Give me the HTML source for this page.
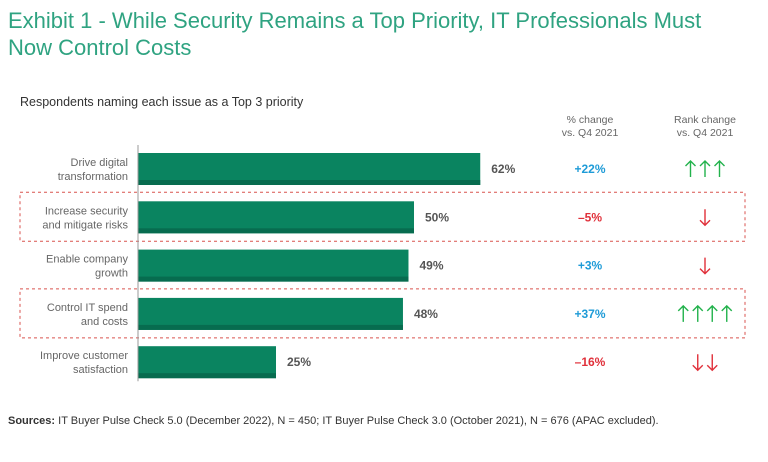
<!DOCTYPE html>
<html><head><meta charset="utf-8"><style>
body{margin:0;width:768px;height:462px;background:#fff;font-family:"Liberation Sans",sans-serif;overflow:hidden;position:relative}
.t{position:absolute;white-space:nowrap;font-family:"Liberation Sans",sans-serif}
</style></head><body>
<div class="t" style="left:8px;top:7px;font-size:22px;line-height:27px;color:#2fa381">Exhibit 1 - While Security Remains a Top Priority, IT Professionals Must<br>Now Control Costs</div>
<div class="t" style="left:20px;top:95px;font-size:12.5px;color:#333">Respondents naming each issue as a Top 3 priority</div>
<div class="t" style="left:540px;top:114px;width:100px;text-align:center;font-size:10.5px;line-height:13px;color:#666">% change<br>vs. Q4 2021</div>
<div class="t" style="left:655px;top:114px;width:100px;text-align:center;font-size:10.5px;line-height:13px;color:#666">Rank change<br>vs. Q4 2021</div>
<svg id="c" width="768" height="462" style="position:absolute;left:0;top:0"></svg>
<div class="t" style="left:8px;top:415px;font-size:11px;color:#333"><b>Sources:</b> IT Buyer Pulse Check 5.0 (December 2022), N = 450; IT Buyer Pulse Check 3.0 (October 2021), N = 676 (APAC excluded).</div>
<script>
const categories=[["Drive digital","transformation"],["Increase security","and mitigate risks"],["Enable company","growth"],["Control IT spend","and costs"],["Improve customer","satisfaction"]];
const values=[62,50,49,48,25];
const pctChange=["+22%","\u20135%","+3%","+37%","\u201316%"];
const rankChange=[3,-1,-1,4,-2];
const highlighted=[false,true,false,true,false];
const NS="http://www.w3.org/2000/svg",svg=document.getElementById('c');
const x0=138,k=5.52,y0=153,step=48.3,bh=32;
const xs=v=>x0+v*k, ys=i=>y0+i*step;
function mk(t,a){const e=document.createElementNS(NS,t);for(const n in a)e.setAttribute(n,a[n]);svg.appendChild(e);return e;}
values.forEach((v,i)=>{
 const y=ys(i);
 if(highlighted[i]){const r=mk('rect',{x:20,y:y-9,width:725,height:49,fill:'none',stroke:'#d9534f','stroke-dasharray':'3,3','stroke-width':1});
 }
 const b=mk('rect',{x:x0,y:y,width:xs(v)-x0,height:bh,fill:'#0a8460'});
 
 const s=mk('rect',{x:x0,y:y+bh-5,width:xs(v)-x0,height:5,fill:'#076c4f'});
 
 const l=mk('text',{x:128,y:y+13,'text-anchor':'end','font-size':'11','fill':'#666'});
 
 categories[i].forEach((ln,j)=>{const ts=document.createElementNS(NS,'tspan');ts.setAttribute('x',128);ts.setAttribute('dy',j?14:0);ts.textContent=ln;l.appendChild(ts);});
 const vl=mk('text',{x:xs(v)+11,y:y+20,'font-size':'12','font-weight':'bold',fill:'#555'});vl.textContent=v+'%';
 
 const up=pctChange[i][0]=='+';
 const pc=mk('text',{x:590,y:y+20,'text-anchor':'middle','font-size':'12','font-weight':'bold',fill:up?'#1e9bd7':'#e0303a'});pc.textContent=pctChange[i];
 
 const n=Math.abs(rankChange[i]),upR=rankChange[i]>0,col=upR?'#22b24c':'#e0303a';
 const g=mk('g',{stroke:col,'stroke-width':1.4,fill:'none'});
 
 for(let j=0;j<n;j++){
  const cx=705+(j-(n-1)/2)*14.5, t=y+8, bt=y+24;
  const p=document.createElementNS(NS,'path');
  p.setAttribute('d',upR?`M${cx} ${bt}V${t}M${cx-5} ${t+5}L${cx} ${t}L${cx+5} ${t+5}`:`M${cx} ${t}V${bt}M${cx-5} ${bt-5}L${cx} ${bt}L${cx+5} ${bt-5}`);
  
  g.appendChild(p);
 }
});
const ax=mk('line',{x1:x0,x2:x0,y1:145,y2:ys(values.length-1)+bh+3,stroke:'#999','stroke-width':1});

</script>
</body></html>
